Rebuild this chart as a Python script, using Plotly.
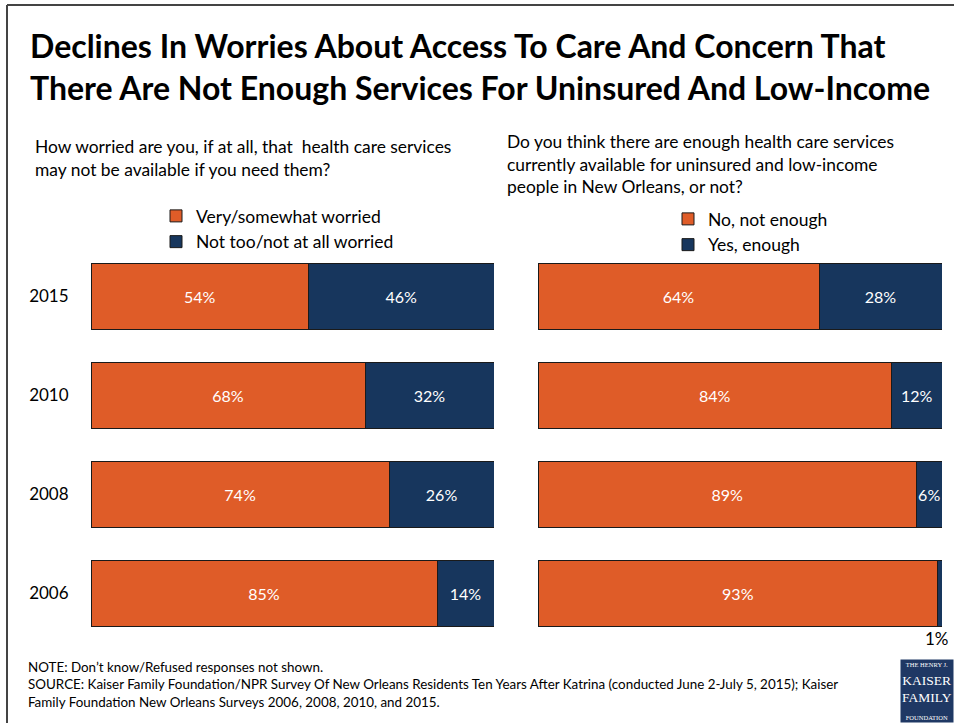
import plotly.graph_objects as go
from plotly.subplots import make_subplots

years = ["2015", "2010", "2008", "2006"]
worried = [54, 68, 74, 85]
not_worried = [46, 32, 26, 14]
not_enough = [64, 84, 89, 93]
enough = [28, 12, 6, 1]

title_text = ("Declines In Worries About Access To Care And Concern That<br>"
              "There Are Not Enough Services For Uninsured And Low-Income")
q_left = "How worried are you, if at all, that  health care services<br>may not be available if you need them?"
q_right = ("Do you think there are enough health care services<br>currently available for uninsured and low-income<br>"
           "people in New Orleans, or not?")
note_text = ("NOTE: Don’t know/Refused responses not shown.<br>"
             "SOURCE: Kaiser Family Foundation/NPR Survey Of New Orleans Residents Ten Years After Katrina (conducted June 2-July 5, 2015); Kaiser<br>"
             "Family Foundation New Orleans Surveys 2006, 2008, 2010, and 2015.")

ORANGE = "#DF5C28"
NAVY = "#17365D"
FONT = "Lato"
W, H = 954, 723

def pct(v):
    return [f"{x}%" for x in v]

cat_order = years[::-1]  # bottom-to-top order on the category axis

fig = make_subplots(rows=1, cols=2)
line = dict(color="#1a1a1a", width=1)
tfont = dict(color="white", size=16, family=FONT)
common = dict(orientation="h", textposition="inside", insidetextanchor="middle",
              insidetextfont=tfont, textangle=0)

fig.add_trace(go.Bar(y=years, x=worried, name="Very/somewhat worried",
                     marker=dict(color=ORANGE, line=line), text=pct(worried),
                     legend="legend", legendgroup="a", **common), row=1, col=1)
fig.add_trace(go.Bar(y=years, x=not_worried, name="Not too/not at all worried",
                     marker=dict(color=NAVY, line=line), text=pct(not_worried),
                     legend="legend", legendgroup="b", **common), row=1, col=1)
fig.add_trace(go.Bar(y=years, x=not_enough, name="No, not enough",
                     marker=dict(color=ORANGE, line=line), text=pct(not_enough),
                     legend="legend2", **common), row=1, col=2)
enough_txt = [f"{x}%" if x > 2 else "" for x in enough]
fig.add_trace(go.Bar(y=years, x=enough, name="Yes, enough",
                     marker=dict(color=NAVY, line=line), text=enough_txt,
                     legend="legend2", **common), row=1, col=2)

# small value shown outside (below-right of) the last bar
fig.add_annotation(x=100, y=cat_order.index(years[3]), xref="x2", yref="y2", text=f"{enough[3]}%",
                   showarrow=False, xanchor="center", yanchor="top", yshift=-33, xshift=-5,
                   font=dict(size=17, color="#000", family=FONT))

ydom = [1 - 642.5 / H, 1 - 247 / H]
fig.update_layout(
    width=W, height=H, margin=dict(l=0, r=0, t=0, b=0),
    paper_bgcolor="white", plot_bgcolor="white",
    barmode="stack", barnorm="percent", bargap=0.333,
    uniformtext=dict(minsize=16, mode="show"),
    font=dict(family=FONT, color="#000"),
    legend=dict(x=156 / W, y=1 - 198 / H, xanchor="left", yanchor="top",
                font=dict(size=17.5, family=FONT), tracegroupgap=3, itemwidth=30,
                bgcolor="rgba(0,0,0,0)", traceorder="normal"),
    legend2=dict(x=668 / W, y=1 - 201 / H, xanchor="left", yanchor="top",
                 font=dict(size=17.5, family=FONT), itemwidth=30,
                 bgcolor="rgba(0,0,0,0)", traceorder="normal"),
    showlegend=True,
)
fig.update_xaxes(range=[0, 100], visible=False, fixedrange=True)
fig.update_xaxes(domain=[91 / W, 494 / W], row=1, col=1)
fig.update_xaxes(domain=[538 / W, 942 / W], row=1, col=2)
fig.update_yaxes(domain=ydom, type="category", categoryorder="array",
                 categoryarray=cat_order, range=[-0.5, len(years) - 0.5],
                 showgrid=False, showline=False, zeroline=False, fixedrange=True)
fig.update_yaxes(ticks="outside", ticklen=18, tickcolor="rgba(0,0,0,0)",
                 tickfont=dict(size=17, family=FONT, color="#000"), row=1, col=1)
fig.update_yaxes(showticklabels=False, row=1, col=2)

fig.add_annotation(xref="paper", yref="paper", x=28 / W, y=1 - 24 / H, xanchor="left", yanchor="top",
                   text=f"<b>{title_text}</b>", showarrow=False, align="left",
                   font=dict(size=32, family=FONT, color="#000"))
fig.add_annotation(xref="paper", yref="paper", x=33 / W, y=1 - 134 / H, xanchor="left", yanchor="top",
                   text=q_left, showarrow=False, align="left",
                   font=dict(size=17.4, family=FONT, color="#000"))
fig.add_annotation(xref="paper", yref="paper", x=505 / W, y=1 - 129 / H, xanchor="left", yanchor="top",
                   text=q_right, showarrow=False, align="left",
                   font=dict(size=17.4, family=FONT, color="#000"))
fig.add_annotation(xref="paper", yref="paper", x=26 / W, y=1 - 657 / H, xanchor="left", yanchor="top",
                   text=note_text, showarrow=False, align="left",
                   font=dict(size=13.4, family=FONT, color="#000"))
fig.add_annotation(xref="paper", yref="paper", x=1.0, y=0.0, xanchor="right", yanchor="bottom",
                   text="<span style='font-size:6.5px'>THE HENRY J.</span><br>KAISER<br>FAMILY<br>"
                        "<span style='font-size:6.5px'>FOUNDATION</span>",
                   showarrow=False, align="center", bgcolor="#1F3864", borderpad=1,
                   font=dict(size=13.5, family="Liberation Serif", color="white"))

# frame lines
fig.add_shape(type="line", xref="paper", yref="paper", x0=7 / W, x1=7 / W, y0=0, y1=1 - 5 / H,
              line=dict(color="#444", width=2))
fig.add_shape(type="line", xref="paper", yref="paper", x0=7 / W, x1=1, y0=1 - 5 / H, y1=1 - 5 / H,
              line=dict(color="#444", width=2))

fig.write_html("out.html", config={"displayModeBar": False},
               post_script="document.body.style.margin='0';document.body.style.overflow='hidden';")
